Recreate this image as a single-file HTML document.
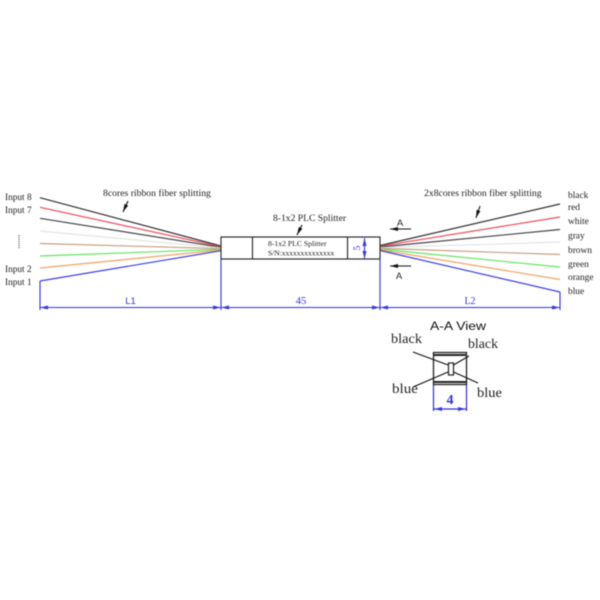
<!DOCTYPE html>
<html>
<head>
<meta charset="utf-8">
<style>
html,body{margin:0;padding:0;background:#fff;width:600px;height:600px;overflow:hidden}
svg{display:block;filter:blur(0.4px)}
text{font-family:"Liberation Serif",serif;fill:#222}
.s{font-family:"Liberation Sans",sans-serif}
</style>
</head>
<body>
<svg width="600" height="600" viewBox="0 0 600 600" xmlns="http://www.w3.org/2000/svg">
<defs>
<marker id="b" viewBox="0 0 8 4" refX="8" refY="2" markerWidth="8" markerHeight="4" orient="auto-start-reverse" markerUnits="userSpaceOnUse"><path d="M0 0L8 2L0 4Z" fill="#3a3ae0"/></marker>
<marker id="k" viewBox="0 0 8 4" refX="8" refY="2" markerWidth="8" markerHeight="4" orient="auto" markerUnits="userSpaceOnUse"><path d="M0 0L8 2L0 4Z" fill="#111"/></marker>
</defs>

<!-- left fibers -->
<g fill="none" stroke-width="1.2">
<path d="M40 197.700L221 246" stroke="#333"/>
<path d="M40 207.300L221 246.700" stroke="#ee4a5c"/>
<path d="M40 218.300L221 247.300" stroke="#444"/>
<path d="M40 231L221 248" stroke="#e4e4e4"/>
<path d="M40 243.500L221 248.700" stroke="#c49f82"/>
<path d="M40 256L221 249.300" stroke="#5fe65f"/>
<path d="M40 268L221 250" stroke="#f0a25e"/>
<path d="M40 281L221 250.700" stroke="#3f3fe4"/>
</g>

<!-- right fibers -->
<g fill="none" stroke-width="1.2">
<path d="M380 245.500L560 204" stroke="#333"/>
<path d="M380 246.200L560 217" stroke="#ee4a5c"/>
<path d="M380 247L560 229.500" stroke="#444"/>
<path d="M380 247.700L560 242" stroke="#e4e4e4"/>
<path d="M380 248.400L560 254.500" stroke="#c49f82"/>
<path d="M380 249.100L560 267" stroke="#5fe65f"/>
<path d="M380 249.800L560 279.500" stroke="#f0a25e"/>
<path d="M380 250.500L560 292" stroke="#3f3fe4"/>
</g>

<!-- splitter body -->
<rect x="221" y="237" width="159" height="22" fill="#fff" stroke="#222" stroke-width="1.100"/>
<path d="M252.500 237V259M347.500 237V259" stroke="#222" stroke-width="1.100"/>
<text x="268" y="246" font-size="7.700">8-1x2 PLC Splitter</text>
<text x="268" y="255.500" font-size="7.500">S/N:xxxxxxxxxxxxxx</text>

<!-- 5 dim -->
<path d="M364.500 238V259" stroke="#3030e0" stroke-width="1.100" marker-start="url(#b)" marker-end="url(#b)"/>
<text transform="translate(360,248) rotate(-90)" font-size="9.500" text-anchor="middle" style="fill:#3030e0">5</text>

<!-- blue extension lines -->
<g stroke="#3030e0" stroke-width="1.100" fill="none">
<path d="M40 281V310"/>
<path d="M221 259V310"/>
<path d="M380 259V310"/>
<path d="M560 292V310"/>
<path d="M40 307.500H221" marker-start="url(#b)" marker-end="url(#b)"/>
<path d="M221 307.500H380" marker-start="url(#b)" marker-end="url(#b)"/>
<path d="M380 307.500H560" marker-start="url(#b)" marker-end="url(#b)"/>
</g>
<text x="130.500" y="304" font-size="9.500" text-anchor="middle" class="s" style="fill:#3030e0">L1</text>
<text x="301" y="304" font-size="10.500" text-anchor="middle" style="fill:#3030e0">45</text>
<text x="470" y="304" font-size="10" text-anchor="middle" style="fill:#3030e0">L2</text>

<!-- left labels -->
<g font-size="9.300">
<text x="5" y="200">Input 8</text>
<text x="5" y="213">Input 7</text>
<text x="5" y="272">Input 2</text>
<text x="5" y="285">Input 1</text>
</g>
<path d="M19 235V248" stroke="#777" stroke-width="1.600" stroke-dasharray="1 1" fill="none"/>

<!-- right labels -->
<g font-size="9.400">
<text x="568" y="198">black</text>
<text x="568" y="210">red</text>
<text x="568" y="224">white</text>
<text x="568" y="238.500">gray</text>
<text x="568" y="253">brown</text>
<text x="568" y="267">green</text>
<text x="568" y="280">orange</text>
<text x="568" y="294">blue</text>
</g>

<!-- titles -->
<text x="103" y="196" font-size="9.700">8cores ribbon fiber splitting</text>
<path d="M128 201L123 212" stroke="#111" stroke-width="1.100" marker-end="url(#k)"/>
<text x="424" y="196" font-size="9.700">2x8cores ribbon fiber splitting</text>
<path d="M480 206L476 218" stroke="#111" stroke-width="1.100" marker-end="url(#k)"/>
<text x="273" y="221" font-size="9.600">8-1x2 PLC Splitter</text>
<path d="M302 225L297 235" stroke="#111" stroke-width="1.100" marker-end="url(#k)"/>

<!-- A arrows -->
<path d="M411 229H390" stroke="#111" stroke-width="1.100" marker-end="url(#k)"/>
<text x="400" y="226" font-size="9.500" text-anchor="middle" class="s">A</text>
<path d="M411 266H390" stroke="#111" stroke-width="1.100" marker-end="url(#k)"/>
<text x="399" y="279" font-size="9.500" text-anchor="middle" class="s">A</text>

<!-- A-A View -->
<text x="430" y="330" font-size="11.500" textLength="56" lengthAdjust="spacingAndGlyphs" class="s" style="fill:#111">A-A View</text>
<rect x="433.500" y="352.500" width="33" height="32" fill="#fff" stroke="#222" stroke-width="1.300"/>
<path d="M434 355H466M434 382H466" stroke="#222" stroke-width="2"/>
<rect x="448.500" y="363" width="5" height="12" fill="#fff" stroke="#222" stroke-width="1.200"/>
<g stroke="#111" stroke-width="1.100" fill="none">
<path d="M413 352L448 365"/>
<path d="M469 356L453.500 365"/>
<path d="M413 387L448 372"/>
<path d="M478 383L453.500 372"/>
</g>
<g font-size="14" style="fill:#111">
<text x="391" y="343" textLength="31" lengthAdjust="spacingAndGlyphs">black</text>
<text x="468" y="348" textLength="30" lengthAdjust="spacingAndGlyphs">black</text>
<text x="392" y="393" textLength="26" lengthAdjust="spacingAndGlyphs">blue</text>
<text x="477" y="397" textLength="25" lengthAdjust="spacingAndGlyphs">blue</text>
</g>
<g stroke="#3030e0" stroke-width="1.200" fill="none">
<path d="M433.500 385V411"/>
<path d="M466.500 385V411"/>
<path d="M434 409H466" marker-start="url(#b)" marker-end="url(#b)"/>
</g>
<text x="450" y="404" font-size="14" font-weight="bold" text-anchor="middle" style="fill:#3030e0">4</text>
</svg>
</body>
</html>
